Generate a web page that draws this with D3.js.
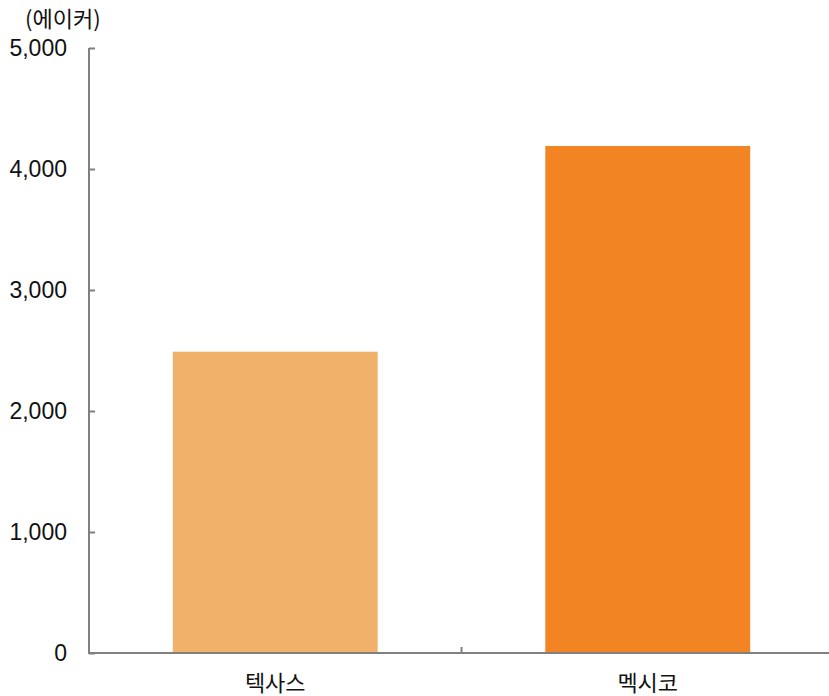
<!DOCTYPE html>
<html>
<head>
<meta charset="utf-8">
<script src="https://cdn.jsdelivr.net/npm/d3@7"></script>
<style>
  body { margin: 0; background: #fff; }
  svg { display: block; }
  text { font-family: "Liberation Sans", "Noto Sans CJK KR", sans-serif; fill: #111; }
  text.kr { font-family: "Noto Sans CJK KR", "Noto Sans", sans-serif; }
</style>
</head>
<body>
<svg id="chart" width="829" height="696"></svg>
<script>
// Cultivated area by region (acres)
const categories = ["텍사스", "멕시코"];
const values = [2490, 4190];
const colors = ["#F0B16B", "#F28424"];
const yTicks = [0, 1000, 2000, 3000, 4000, 5000];
const unitLabel = "(에이커)";

const svg = d3.select("#chart");
const W = 829, H = 696;
const margin = { left: 89, top: 48, bottom: 43 };

const x = d3.scaleBand()
  .domain(categories)
  .range([margin.left, 834])
  .paddingInner(0.45)
  .paddingOuter(0.225);

const y = d3.scaleLinear()
  .domain([0, 5000])
  .range([H - margin.bottom, margin.top]);

// bars
svg.selectAll("rect.bar")
  .data(values)
  .join("rect")
  .attr("class", "bar")
  .attr("x", (d, i) => x(categories[i]))
  .attr("width", x.bandwidth())
  .attr("y", d => y(d))
  .attr("height", d => y(0) - y(d))
  .attr("fill", (d, i) => colors[i]);

const axisColor = "#808080";

// y axis with inward ticks
const yAxis = svg.append("g")
  .attr("transform", `translate(${margin.left},0)`)
  .call(d3.axisRight(y).tickValues(yTicks).tickSize(6).tickFormat(""));
yAxis.select(".domain").attr("stroke", axisColor).attr("stroke-width", 2)
  .attr("d", `M0,${y(5000)}V${y(0)}`);
yAxis.selectAll(".tick line").attr("stroke", axisColor).attr("stroke-width", 2);

// y tick labels
svg.append("g").selectAll("text")
  .data(yTicks)
  .join("text")
  .attr("x", 67)
  .attr("y", d => y(d))
  .attr("dy", "0.36em")
  .attr("text-anchor", "end")
  .style("font-size", "23px")
  .text(d => d3.format(",")(d));

// x axis: baseline with a single divider tick between categories
const xAxis = svg.append("g");
xAxis.append("line")
  .attr("x1", margin.left - 1).attr("x2", W)
  .attr("y1", y(0)).attr("y2", y(0))
  .attr("stroke", axisColor).attr("stroke-width", 2);
const divX = (x(categories[0]) + x.bandwidth() + x(categories[1])) / 2;
xAxis.append("line")
  .attr("x1", divX).attr("x2", divX)
  .attr("y1", y(0)).attr("y2", y(0) - 6)
  .attr("stroke", axisColor).attr("stroke-width", 2);

// category labels
svg.append("g").selectAll("text")
  .data(categories)
  .join("text")
  .attr("class", "kr")
  .attr("x", d => x(d) + x.bandwidth() / 2)
  .attr("y", 691)
  .attr("text-anchor", "middle")
  .style("font-size", "22px")
  .text(d => d);

// unit label
svg.append("text")
  .attr("class", "kr")
  .attr("x", 25)
  .attr("y", 27)
  .style("font-size", "22px")
  .text(unitLabel);
</script>
</body>
</html>
